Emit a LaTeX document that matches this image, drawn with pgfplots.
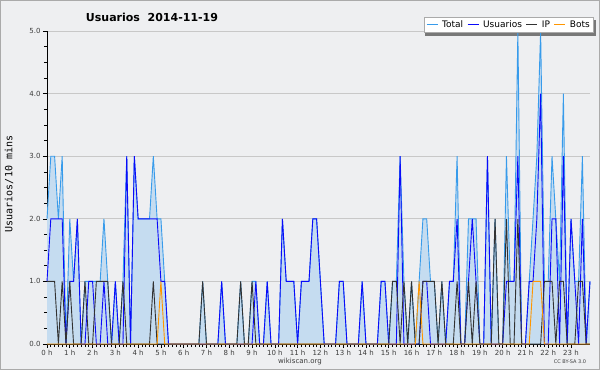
\documentclass[border=0pt]{standalone}
\usepackage{pgfplots}
\pgfplotsset{compat=1.18}
\usepackage{pgfplotstable}
\usepackage{fontspec}
\setmainfont{DejaVu Sans}
\newfontfamily\monof{DejaVu Sans Mono}
\definecolor{bgc}{RGB}{238,239,241}
\definecolor{bordc}{RGB}{170,170,170}
\definecolor{totalc}{RGB}{55,155,235}
\definecolor{fillc}{RGB}{197,220,240}
\definecolor{userc}{RGB}{10,10,250}
\definecolor{ipc}{RGB}{50,50,50}
\definecolor{botc}{RGB}{255,150,0}
\definecolor{gridc}{RGB}{200,200,200}
\definecolor{tickc}{RGB}{60,60,60}
\definecolor{shadc}{RGB}{120,120,120}

\pgfplotstableread{
i T U IP B
0 2 1 1 0
1 3 2 1 0
2 3 2 1 0
3 2 2 0 0
4 3 2 1 0
5 0 0 0 0
6 2 1 1 0
7 1 1 0 0
8 2 2 0 0
9 0 0 0 0
10 1 0 1 0
11 1 1 0 0
12 1 1 0 0
13 1 0 1 0
14 1 0 1 0
15 2 1 1 0
16 1 0 1 0
17 0 0 0 0
18 1 1 0 0
19 0 0 0 0
20 1 0 1 0
21 3 3 0 0
22 0 0 0 0
23 3 3 0 0
24 2 2 0 0
25 2 2 0 0
26 2 2 0 0
27 2 2 0 0
28 3 2 1 0
29 2 2 0 0
30 2 1 0 1
31 1 1 0 0
32 0 0 0 0
33 0 0 0 0
34 0 0 0 0
35 0 0 0 0
36 0 0 0 0
37 0 0 0 0
38 0 0 0 0
39 0 0 0 0
40 0 0 0 0
41 1 0 1 0
42 0 0 0 0
43 0 0 0 0
44 0 0 0 0
45 0 0 0 0
46 1 1 0 0
47 0 0 0 0
48 0 0 0 0
49 0 0 0 0
50 0 0 0 0
51 1 0 1 0
52 0 0 0 0
53 0 0 0 0
54 1 0 1 0
55 1 1 0 0
56 0 0 0 0
57 0 0 0 0
58 1 1 0 0
59 0 0 0 0
60 0 0 0 0
61 0 0 0 0
62 2 2 0 0
63 1 1 0 0
64 1 1 0 0
65 1 1 0 0
66 0 0 0 0
67 1 1 0 0
68 1 1 0 0
69 1 1 0 0
70 2 2 0 0
71 2 2 0 0
72 1 1 0 0
73 0 0 0 0
74 0 0 0 0
75 0 0 0 0
76 0 0 0 0
77 1 1 0 0
78 1 1 0 0
79 0 0 0 0
80 0 0 0 0
81 0 0 0 0
82 0 0 0 0
83 1 1 0 0
84 0 0 0 0
85 0 0 0 0
86 0 0 0 0
87 0 0 0 0
88 1 1 0 0
89 1 1 0 0
90 0 0 0 0
91 1 0 1 0
92 1 0 1 0
93 3 3 0 0
94 1 0 1 0
95 0 0 0 0
96 1 0 1 0
97 0 0 0 0
98 1 0 0 1
99 2 1 1 0
100 2 1 1 0
101 1 0 1 0
102 1 0 1 0
103 0 0 0 0
104 1 0 1 0
105 0 0 0 0
106 1 1 0 0
107 1 1 0 0
108 3 2 1 0
109 0 0 0 0
110 0 0 0 0
111 2 1 1 0
112 2 2 0 0
113 2 1 1 0
114 0 0 0 0
115 0 0 0 0
116 3 3 0 0
117 0 0 0 0
118 2 0 2 0
119 0 0 0 0
120 0 0 0 0
121 3 1 2 0
122 1 1 0 0
123 1 1 0 0
124 5 3 2 0
125 0 0 0 0
126 0 0 0 0
127 1 1 0 0
128 2 1 0 1
129 3 2 0 1
130 5 4 0 1
131 1 0 1 0
132 1 0 1 0
133 3 2 1 0
134 2 2 0 0
135 1 0 1 0
136 4 3 1 0
137 0 0 0 0
138 2 2 0 0
139 1 1 0 0
140 1 0 1 0
141 3 2 1 0
142 0 0 0 0
143 1 1 0 0
}\data

\begin{document}
\begin{tikzpicture}[x=1pt,y=1pt]
\fill[bgc] (0,0) rectangle (600,370);
\draw[bordc, line width=1pt] (0.5,0.5) rectangle (599.5,369.5);
\path[use as bounding box] (0,0) rectangle (600,370);
\fill[shadc] (425,334) rectangle (596,350);
\begin{axis}[
  at={(47pt,26pt)}, anchor=south west,
  scale only axis, width=543pt, height=313pt,
  xmin=0, xmax=23.8333, ymin=0, ymax=5,
  axis lines=left, axis line style={-, black, line width=0.8pt},
  xtick={0,...,23},
  xticklabels={0 h,1 h,2 h,3 h,4 h,5 h,6 h,7 h,8 h,9 h,10 h,11 h,12 h,13 h,14 h,15 h,16 h,17 h,18 h,19 h,20 h,21 h,22 h,23 h},
  minor x tick num=5,
  ytick={0,1,2,3,4,5},
  minor y tick num=3,
  tick align=outside,
  major tick length=4pt, minor tick length=3pt,
  tick style={black, line width=0.6pt},
  ymajorgrids, grid style={gridc, line width=0.8pt},
  /pgf/number format/fixed, /pgf/number format/fixed zerofill,
  /pgf/number format/precision=1, /pgf/number format/assume math mode=true,
  ticklabel style={font=\fontsize{7}{8}\selectfont, text=tickc},
  xticklabel style={yshift=1pt},
  yticklabel style={xshift=1pt},
  legend columns=4,
  legend style={at={(1.0055,1.045)}, anchor=north east, draw=bordc, fill=white,
    font=\fontsize{9}{10}\selectfont, inner xsep=2pt, inner ysep=1.5pt,
    nodes={inner xsep=1pt, inner ysep=2pt},
    /tikz/every odd column/.append style={column sep=3pt},
    /tikz/every even column/.append style={column sep=3pt}},
  legend image code/.code={\draw[#1, line width=0.9pt] (0pt,0pt) -- (11pt,0pt);},
  clip=false,
]
\addplot[fill=fillc, draw=none, forget plot] table[x expr=\thisrow{i}/6, y=T] {\data} \closedcycle;
\addplot[totalc, line width=0.9pt] table[x expr=\thisrow{i}/6, y=T] {\data};
\addplot[userc, line width=0.9pt] table[x expr=\thisrow{i}/6, y=U] {\data};
\addplot[ipc, line width=0.9pt] table[x expr=\thisrow{i}/6, y=IP] {\data};
\addplot[botc, line width=0.9pt] table[x expr=\thisrow{i}/6, y=B] {\data};
\legend{Total,Usuarios,IP,Bots}
\end{axis}
\node[font=\bfseries\fontsize{11}{13}\selectfont] at (152,353) {Usuarios\ \ 2014-11-19};
\node[rotate=90, font=\monof\fontsize{10}{12}\selectfont] at (9,186) {Usuarios/10 mins};
\node[font=\fontsize{7}{8}\selectfont, text=tickc] at (300,8) {wikiscan.org};
\node[font=\fontsize{5}{6}\selectfont, text=tickc] at (570,8) {CC BY-SA 3.0};
\end{tikzpicture}
\end{document}
